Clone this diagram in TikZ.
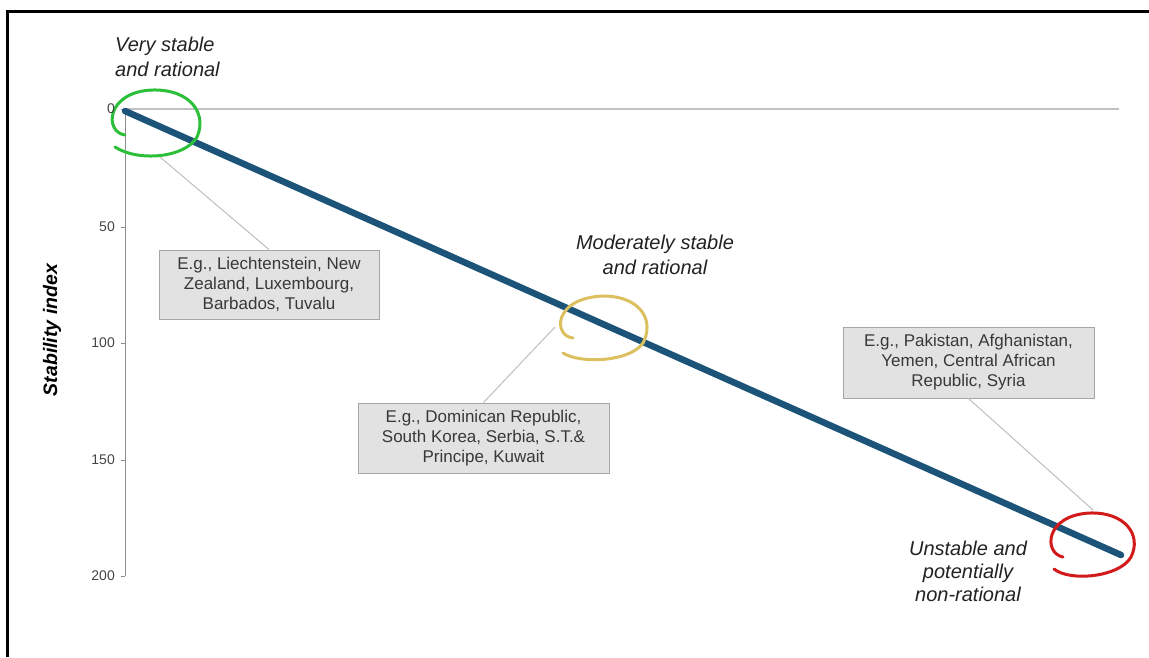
\documentclass[tikz,border=0pt]{standalone}
\usepackage{fontspec}
\setmainfont{Liberation Sans}
\definecolor{dataline}{HTML}{1B5478}
\definecolor{boxfill}{HTML}{E2E2E2}
\definecolor{boxedge}{HTML}{A6A6A6}
\definecolor{boxtext}{HTML}{383838}
\definecolor{leader}{HTML}{BEBEBE}
\definecolor{axisgray}{HTML}{8C8C8C}
\definecolor{ticktext}{HTML}{454545}
\definecolor{ringgreen}{HTML}{2CC03A}
\definecolor{ringgold}{HTML}{DCC060}
\definecolor{ringred}{HTML}{D31A1A}
\definecolor{labeltext}{HTML}{222222}
\begin{document}
\begin{tikzpicture}[x=1pt,y=-1pt,
  examplebox/.style={draw=boxedge,fill=boxfill,line width=1pt,text=boxtext,
    align=center,inner sep=0pt,font=\fontsize{17}{20}\selectfont},
  catlabel/.style={text=labeltext,inner sep=0pt,font=\fontsize{20}{24.5}\selectfont\itshape},
  ticklabel/.style={text=ticktext,anchor=east,inner sep=0pt,font=\fontsize{14}{16}\selectfont},
  leaderline/.style={draw=leader,line width=1pt},
  ring/.style={line width=3pt,line cap=round}]
\useasboundingbox (0,0) rectangle (1149,657);
% frame
\draw[line width=2.5pt,black] (7.5,657) -- (7.5,11.5) -- (1149,11.5);
% axes
\draw[draw=leader!80!black!60,line width=1.5pt] (125,109) -- (1119,109);
\draw[axisgray,line width=1pt] (125,109) -- (125,576);
\foreach \y in {109,227,343,460,576}{
  \draw[axisgray,line width=1pt] (121,\y) -- (125,\y);
}
\node[rotate=90,text=black,inner sep=0pt,font=\fontsize{19.5}{22}\selectfont\bfseries\itshape] (ylab) at (52,330) {Stability index};
% data
\coordinate (dstart) at (125,111);
\coordinate (dend) at (1121,555);
\draw[dataline,line width=6.5pt,line cap=round] (dstart) -- (dend);
% rings
\draw[ring,ringgreen] (125,135) .. controls (104,132) and (106,92) .. (152,90)
  .. controls (192,89) and (207,115) .. (197,137)
  .. controls (185,158) and (138,162) .. (115,147);
\draw[ring,ringgold] (573,338) .. controls (553,336) and (553,298) .. (603,296)
  .. controls (640,296) and (655,320) .. (643,343)
  .. controls (630,362) and (580,364) .. (563,353);
\draw[ring,ringred] (1063,557) .. controls (1043,553) and (1045,515) .. (1090,513)
  .. controls (1125,512) and (1142,535) .. (1131,557)
  .. controls (1120,577) and (1070,582) .. (1054,569);
% tick labels
\foreach \v/\y in {0/109,50/227,100/343,150/460,200/576}{
  \node[ticklabel] (t\v) at (115,\y) {\v};
}
% ring anchors
\coordinate (g1) at (160,157);
\coordinate (g2) at (555,327);
\coordinate (g3) at (1093,510);
% category labels
\node[catlabel,align=left,anchor=west] (lab1) at (115,57) {Very stable\\and rational};
\node[catlabel,align=center] (lab2) at (655,255) {Moderately stable\\and rational};
\node[catlabel,align=center,font=\fontsize{20}{23}\selectfont\itshape] (lab3) at (968,571) {Unstable and\\potentially\\non-rational};
% example boxes
\node[examplebox,minimum width=220pt,minimum height=69pt] (box1) at (269,284.5)
  {E.g., Liechtenstein, New\\Zealand, Luxembourg,\\Barbados, Tuvalu};
\node[examplebox,minimum width=251pt,minimum height=70pt] (box2) at (483.5,438)
  {E.g., Dominican Republic,\\South Korea, Serbia, S.T.\&\\Principe, Kuwait};
\node[examplebox,minimum width=251pt,minimum height=71pt] (box3) at (968.5,362.5)
  {E.g., Pakistan, Afghanistan,\\Yemen, Central African\\Republic, Syria};
% leaders
\draw[leaderline] (box1.north) -- (g1);
\draw[leaderline] (box2.north) -- (g2);
\draw[leaderline] (box3.south) -- (g3);
\end{tikzpicture}
\end{document}
